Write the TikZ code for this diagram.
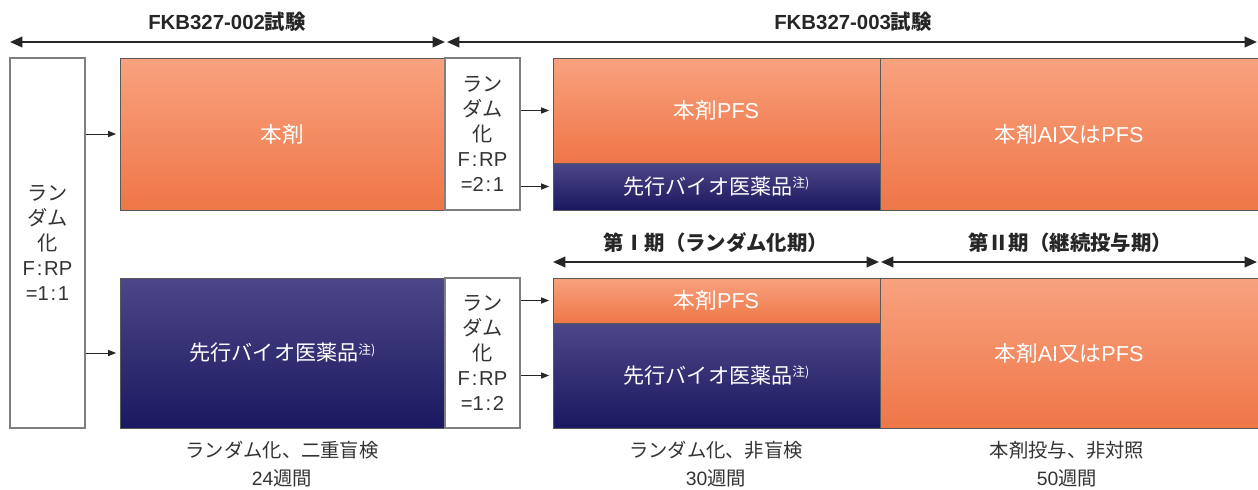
\documentclass[tikz,border=0pt]{standalone}
\usepackage{fontspec}
\setmainfont{Noto Sans CJK JP}
\newfontfamily\lat{Liberation Sans}
\usetikzlibrary{arrows.meta}
\definecolor{otop}{HTML}{F8A27F}
\definecolor{obot}{HTML}{EF7647}
\definecolor{btop}{HTML}{4C4787}
\definecolor{bbot}{HTML}{1A1860}
\definecolor{rbord}{HTML}{7F7F7F}
\definecolor{txt}{HTML}{333333}
\newcommand{\chu}{\raisebox{0.6ex}{\fontsize{7.2}{8}\selectfont 注)}}
\newcommand{\bx}[7]{\node[#6, minimum width={(#4-#2)*0.02cm}, minimum height={(#5-#3)*0.02cm}] (#1) at ({(#2+#4)/2},{(#3+#5)/2}) {#7};}
\newcommand{\ratio}[1]{ラン\\ダム\\化\\{\lat F\kern1pt:\kern1ptRP}\\{\lat =#1}}
\tikzset{
  orangebox/.style={rectangle, inner sep=0pt, draw=black!65, line width=0.5pt, top color=otop, bottom color=obot, text=white, font=\fontsize{12.3}{14}\selectfont},
  bluebox/.style={rectangle, inner sep=0pt, draw=black!65, line width=0.5pt, top color=btop, bottom color=bbot, text=white, font=\fontsize{12}{14}\selectfont},
  randbox/.style={rectangle, inner sep=0pt, draw=rbord, line width=0.6pt, fill=white, align=center, text=txt, font=\fontsize{11.5}{14.3}\selectfont},
  dblarrow/.style={{Triangle[length=7pt,width=6pt]}-{Triangle[length=7pt,width=6pt]}, line width=1.1pt, draw=black!85},
  smallarrow/.style={-{Triangle[length=4.5pt,width=3.5pt]}, line width=0.5pt, draw=black!85, shorten >=2pt},
  titletext/.style={font=\fontsize{11.6}{13}\selectfont\bfseries, text=black!85},
  captext/.style={font=\fontsize{11}{15.9}\selectfont, text=txt, align=center}
}
\begin{document}
\begin{tikzpicture}[x=0.02cm,y=-0.02cm]
\useasboundingbox (0,0) rectangle (1258,490);
% titles and top arrows
\node[titletext] (t002) at (227,22) {{\lat\bfseries FKB327-002}試験};
\node[titletext] (t003) at (853,22) {{\lat\bfseries FKB327-003}試験};
\coordinate (a1L) at (10,42);
\coordinate (a1R) at (445,42);
\coordinate (a2L) at (447,42);
\coordinate (a2R) at (1257,42);
\draw[dblarrow] (a1L) -- (a1R);
\draw[dblarrow] (a2L) -- (a2R);
% left randomization box
\bx{L}{10}{58}{85}{428}{randbox}{\ratio{1\kern1pt:\kern1pt1}}
% row 1
\bx{A}{120}{58}{445}{210}{orangebox}{本剤}
\bx{R2}{445}{58}{520}{210}{randbox}{\ratio{2\kern1pt:\kern1pt1}}
\bx{C1}{553}{58}{880}{163}{orangebox}{本剤{\lat PFS}}
\bx{C2}{553}{163}{880}{210}{bluebox}{先行バイオ医薬品\chu}
\bx{D1}{880}{58}{1258}{210}{orangebox}{本剤{\lat AI}又は{\lat PFS}}
% period labels
\node[titletext] (p1) at (716,243) {第Ⅰ期（ランダム化期）};
\node[titletext] (p2) at (1070,243) {第Ⅱ期（継続投与期）};
\coordinate (b1L) at (553,262);
\coordinate (b1R) at (879,262);
\coordinate (b2L) at (881,262);
\coordinate (b2R) at (1257,262);
\draw[dblarrow] (b1L) -- (b1R);
\draw[dblarrow] (b2L) -- (b2R);
% row 2
\bx{B}{120}{278}{445}{428}{bluebox}{先行バイオ医薬品\chu}
\bx{R3}{445}{278}{520}{428}{randbox}{\ratio{1\kern1pt:\kern1pt2}}
\bx{E1}{553}{278}{880}{323}{orangebox}{本剤{\lat PFS}}
\bx{E2}{553}{323}{880}{428}{bluebox}{先行バイオ医薬品\chu}
\bx{D2}{880}{278}{1258}{428}{orangebox}{本剤{\lat AI}又は{\lat PFS}}
% small arrows
\draw[smallarrow] (L.east |- A.west) -- (A.west);
\draw[smallarrow] (L.east |- B.west) -- (B.west);
\draw[smallarrow] (R2.east |- C1.west) -- (C1.west);
\draw[smallarrow] (R2.east |- C2.west) -- (C2.west);
\draw[smallarrow] (R3.east |- E1.west) -- (E1.west);
\draw[smallarrow] (R3.east |- E2.west) -- (E2.west);
% captions
\node[captext] (c1) at (282,464) {ランダム化、二重盲検\\{\lat 24}週間};
\node[captext] (c2) at (716,464) {ランダム化、非盲検\\{\lat 30}週間};
\node[captext] (c3) at (1067,464) {本剤投与、非対照\\{\lat 50}週間};
\end{tikzpicture}
\end{document}
